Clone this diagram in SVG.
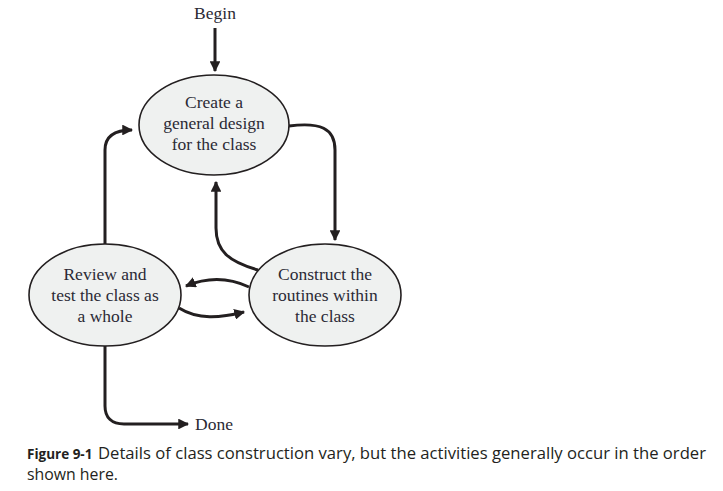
<svg xmlns="http://www.w3.org/2000/svg" width="723" height="491" viewBox="0 0 723 491">
<style>
.node ellipse{fill:#eff1f0;stroke:#231f20;stroke-width:1.6}
.node text,.lbl{font-family:"Liberation Serif",serif;font-size:17.5px;fill:#2b2a35;text-anchor:middle}
.conn path{fill:none;stroke:#231f20;stroke-width:3}
.cap{font-family:"Open Sans","Noto Sans",sans-serif;font-size:17px;fill:#231f20}
</style>
<defs>
<marker id="ah" viewBox="0 0 10 10" refX="9" refY="5" markerWidth="3.6" markerHeight="3.6" markerUnits="strokeWidth" orient="auto">
<path d="M0,0 L10,5 L0,10 Z" fill="#231f20"/>
</marker>
</defs>
<rect width="723" height="491" fill="#fff"/>
<g id="begin"><text class="lbl" x="215" y="19">Begin</text></g>
<g id="done"><text class="lbl" x="195" y="430" style="text-anchor:start">Done</text></g>
<g class="conn" id="connectors">
<path d="M215,28 L215,71" marker-end="url(#ah)"/>
<path d="M289,126 C320,122 335,128 335,150 L335,240" marker-end="url(#ah)"/>
<path d="M258,270 C230,262 216,252 216,228 L216,182" marker-end="url(#ah)"/>
<path d="M249,287 C232,279 210,276 186,286" marker-end="url(#ah)"/>
<path d="M179,308 C198,320 220,318 244,312" marker-end="url(#ah)"/>
<path d="M105,244 L105,150 C105,138 112,130 132,130" marker-end="url(#ah)"/>
<path d="M105,346 L105,406 C105,418 112,424 124,424 L188,424" marker-end="url(#ah)"/>
</g>
<g class="node" id="create">
<ellipse cx="214" cy="125" rx="75" ry="50"/>
<text x="214" y="108">Create a</text>
<text x="214" y="129">general design</text>
<text x="214" y="150">for the class</text>
</g>
<g class="node" id="review">
<ellipse cx="105" cy="295" rx="76" ry="51"/>
<text x="105" y="280">Review and</text>
<text x="105" y="301">test the class as</text>
<text x="105" y="322">a whole</text>
</g>
<g class="node" id="construct">
<ellipse cx="325" cy="295" rx="76" ry="51"/>
<text x="325" y="280">Construct the</text>
<text x="325" y="301">routines within</text>
<text x="325" y="322">the class</text>
</g>
<g id="caption">
<text class="cap" x="27" y="459" font-weight="bold" style="font-size:13.5px">Figure 9-1</text>
<text class="cap" x="98" y="459" textLength="608" lengthAdjust="spacingAndGlyphs">Details of class construction vary, but the activities generally occur in the order</text>
<text class="cap" x="27" y="480" textLength="91" lengthAdjust="spacingAndGlyphs">shown here.</text>
</g>
</svg>
